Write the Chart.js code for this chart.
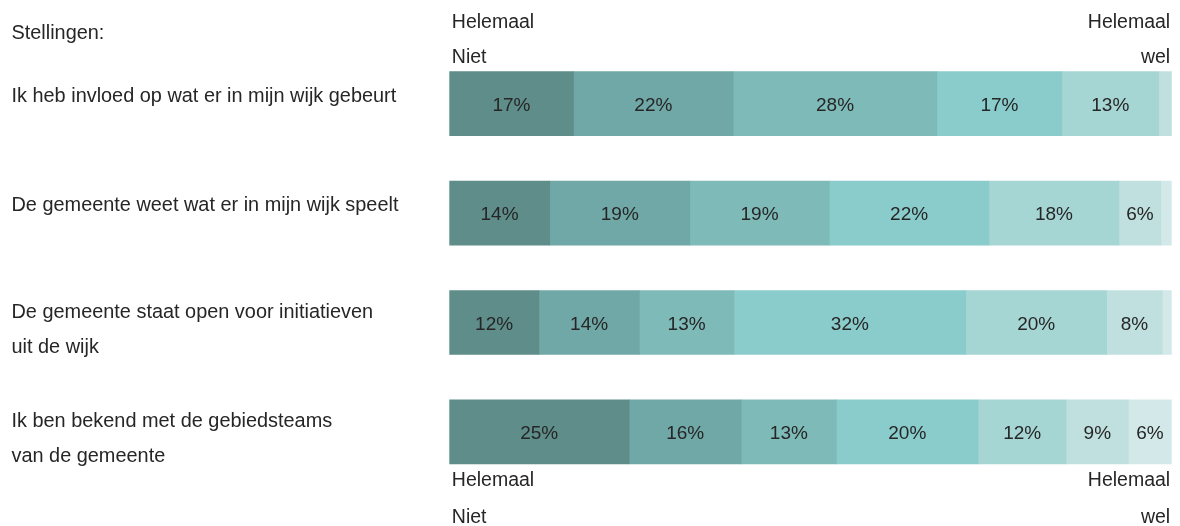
<!DOCTYPE html>
<html>
<head>
<meta charset="utf-8">
<script src="https://cdn.jsdelivr.net/npm/chart.js@4.4.1/dist/chart.umd.min.js"></script>
<style>
  html, body { margin: 0; padding: 0; background: #ffffff; }
  #wrap { width: 1180px; height: 526px; position: relative; }
</style>
</head>
<body>
<div id="wrap"><canvas id="chart"></canvas></div>
<script>
// Statements (one row each), possibly split over two lines
const statements = [
  ['Ik heb invloed op wat er in mijn wijk gebeurt'],
  ['De gemeente weet wat er in mijn wijk speelt'],
  ['De gemeente staat open voor initiatieven', 'uit de wijk'],
  ['Ik ben bekend met de gebiedsteams', 'van de gemeente']
];

// Answer scale from "Helemaal niet" (1) to "Helemaal wel" (7)
const scalePoints = ['1', '2', '3', '4', '5', '6', '7'];

// Share of respondents (%) per scale point, one value per statement
const point1 = [17.2, 13.9, 12.4, 24.9];
const point2 = [22.1, 19.4, 13.9, 15.5];
const point3 = [28.2, 19.3, 13.1, 13.2];
const point4 = [17.3, 22.1, 32.1, 19.6];
const point5 = [13.4, 18.0, 19.5, 12.2];
const point6 = [1.8, 5.8, 7.7, 8.6];
const point7 = [0, 1.5, 1.3, 6.0];

const heading = 'Stellingen:';
const endLow = ['Helemaal', 'Niet'];
const endHigh = ['Helemaal', 'wel'];

const colors = ['#5e8d8a', '#6fa8a6', '#7ebab7', '#8acccb', '#a6d6d4', '#c0e0df', '#d3e9e9'];
const TEXT = '#262626';
const FONT = '"Liberation Sans", Arial, sans-serif';

const seriesValues = [point1, point2, point3, point4, point5, point6, point7];

const datasets = seriesValues.map((vals, i) => ({
  label: scalePoints[i],
  data: vals,
  backgroundColor: colors[i],
  borderWidth: 0,
  barThickness: 64
}));

// Draws the percentage inside each segment, the statements and the scale end labels
const textPlugin = {
  id: 'texts',
  afterDatasetsDraw(chart) {
    const ctx = chart.ctx;
    const area = chart.chartArea;
    const yScale = chart.scales.y;
    ctx.save();

    // values inside the segments
    ctx.font = '19px ' + FONT;
    ctx.fillStyle = TEXT;
    ctx.textAlign = 'center';
    ctx.textBaseline = 'alphabetic';
    chart.data.datasets.forEach((ds, i) => {
      const meta = chart.getDatasetMeta(i);
      meta.data.forEach((bar, j) => {
        const v = ds.data[j];
        if (Math.round(v) < 5) return;
        const cx = (bar.x + bar.base) / 2;
        ctx.fillText(Math.round(v) + '%', cx, bar.y + 7);
      });
    });

    // statements on the left
    ctx.font = '19.9px ' + FONT;
    ctx.textAlign = 'left';
    ctx.fillText(heading, 11.5, 38.5);
    statements.forEach((lines, j) => {
      const cy = yScale.getPixelForValue(j);
      if (lines.length === 1) {
        ctx.fillText(lines[0], 11.5, cy - 2);
      } else {
        ctx.fillText(lines[0], 11.5, cy - 5);
        ctx.fillText(lines[1], 11.5, cy + 30);
      }
    });

    // scale ends above the first and below the last bar
    ctx.font = '19.5px ' + FONT;
    const firstBar = chart.getDatasetMeta(0).data[0];
    const lastBar = chart.getDatasetMeta(0).data[statements.length - 1];
    const topEdge = firstBar.y - firstBar.height / 2;
    const bottomEdge = lastBar.y + lastBar.height / 2;
    const drawEnds = (y1, y2) => {
      ctx.textAlign = 'left';
      ctx.fillText(endLow[0], area.left + 2.5, y1);
      ctx.fillText(endLow[1], area.left + 2.5, y2);
      ctx.textAlign = 'right';
      ctx.fillText(endHigh[0], area.right - 1.5, y1);
      ctx.fillText(endHigh[1], area.right - 1.5, y2);
    };
    drawEnds(topEdge - 43.5, topEdge - 8.5);
    drawEnds(bottomEdge + 22.5, bottomEdge + 59);

    ctx.restore();
  }
};

new Chart(document.getElementById('chart'), {
  type: 'bar',
  data: { labels: statements, datasets },
  options: {
    indexAxis: 'y',
    responsive: true,
    maintainAspectRatio: false,
    animation: false,
    layout: { padding: { left: 449.3, right: 8.3, top: 49, bottom: 39.4 } },
    scales: {
      x: { stacked: true, min: 0, max: 100, display: false },
      y: { stacked: true, display: false, offset: true }
    },
    plugins: {
      legend: { display: false },
      tooltip: { enabled: false }
    }
  },
  plugins: [textPlugin]
});
</script>
</body>
</html>
